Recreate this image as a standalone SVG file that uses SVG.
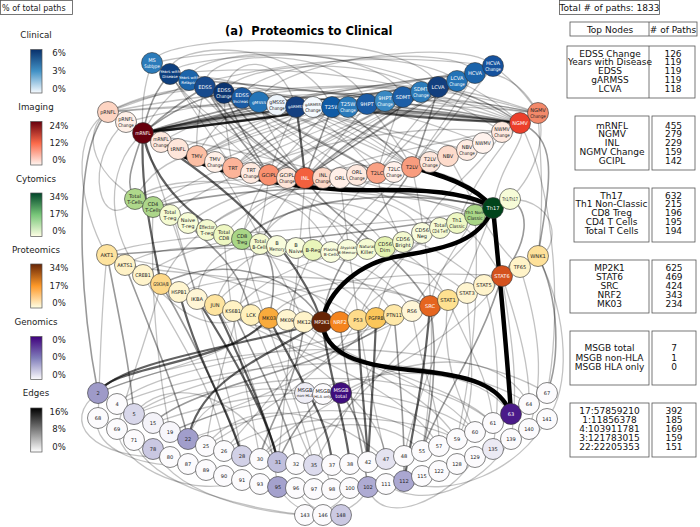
<svg xmlns="http://www.w3.org/2000/svg" width="700" height="527" viewBox="0 0 700 527">
<defs>
<linearGradient id="gBlue" x1="0" y1="0" x2="0" y2="1"><stop offset="0" stop-color="#08306b"/><stop offset="0.5" stop-color="#4292c6"/><stop offset="1" stop-color="#f7fbff"/></linearGradient>
<linearGradient id="gRed" x1="0" y1="0" x2="0" y2="1"><stop offset="0" stop-color="#67000d"/><stop offset="0.5" stop-color="#fb6a4a"/><stop offset="1" stop-color="#fff5f0"/></linearGradient>
<linearGradient id="gGreen" x1="0" y1="0" x2="0" y2="1"><stop offset="0" stop-color="#004529"/><stop offset="0.5" stop-color="#78c679"/><stop offset="1" stop-color="#ffffe5"/></linearGradient>
<linearGradient id="gOrange" x1="0" y1="0" x2="0" y2="1"><stop offset="0" stop-color="#662506"/><stop offset="0.5" stop-color="#fe9929"/><stop offset="1" stop-color="#ffffe5"/></linearGradient>
<linearGradient id="gPurple" x1="0" y1="0" x2="0" y2="1"><stop offset="0" stop-color="#3f007d"/><stop offset="0.5" stop-color="#807dba"/><stop offset="1" stop-color="#fcfbfd"/></linearGradient>
<linearGradient id="gGrey" x1="0" y1="0" x2="0" y2="1"><stop offset="0" stop-color="#000000"/><stop offset="0.5" stop-color="#7f7f7f"/><stop offset="1" stop-color="#ffffff"/></linearGradient>
</defs>
<style>
text{font-family:"DejaVu Sans","Liberation Sans",sans-serif}
.lg{font-size:8.7px;text-anchor:middle;fill:#222}
.tk{font-size:8.5px;text-anchor:middle;fill:#222}
.bar{stroke:#555;stroke-width:0.7}
.tb{font-size:9px;text-anchor:middle;fill:#111}
.box{fill:#fff;stroke:#555;stroke-width:0.8}
.title{font-size:11.5px;font-weight:bold;fill:#000}
#edges path{fill:none;stroke:#000;stroke-linecap:round}
.a{stroke-opacity:0.24;stroke-width:1.3}
.b{stroke-opacity:0.4;stroke-width:1.6}
.c{stroke-opacity:0.62;stroke-width:2.2}
.d{stroke-opacity:1;stroke-width:4.5}
.n circle{stroke:#333;stroke-width:0.6}
.n text{font-size:5.1px;text-anchor:middle;fill:#222}
.n text.s{font-size:4.2px}
.n text.t{font-size:3.9px}
.w text{fill:#fff}
</style>
<rect width="700" height="527" fill="#fff"/>

<g id="legend">
<rect x="0.5" y="0.5" width="72" height="14" class="box"/>
<text x="2" y="10.5" style="font-size:8px;fill:#222">% of total paths</text>
<text x="36" y="38" class="lg">Clinical</text>
<rect x="30.7" y="49.5" width="11.3" height="43.5" fill="url(#gBlue)" class="bar"/>
<text x="59" y="56" class="tk">6%</text><text x="59" y="74" class="tk">3%</text><text x="59" y="92" class="tk">0%</text>
<text x="36" y="110" class="lg">Imaging</text>
<rect x="30.7" y="121.5" width="11.3" height="43.5" fill="url(#gRed)" class="bar"/>
<text x="59" y="129" class="tk">24%</text><text x="59" y="146" class="tk">12%</text><text x="59" y="163" class="tk">0%</text>
<text x="36" y="182" class="lg">Cytomics</text>
<rect x="30.7" y="193" width="11.3" height="43.5" fill="url(#gGreen)" class="bar"/>
<text x="59" y="200" class="tk">34%</text><text x="59" y="217" class="tk">17%</text><text x="59" y="234" class="tk">0%</text>
<text x="36" y="253" class="lg">Proteomics</text>
<rect x="30.7" y="264" width="11.3" height="44" fill="url(#gOrange)" class="bar"/>
<text x="59" y="271" class="tk">34%</text><text x="59" y="289" class="tk">17%</text><text x="59" y="306" class="tk">0%</text>
<text x="36" y="325" class="lg">Genomics</text>
<rect x="30.7" y="336.5" width="11.3" height="43" fill="url(#gPurple)" class="bar"/>
<text x="59" y="343" class="tk">0%</text><text x="59" y="360" class="tk">0%</text><text x="59" y="378" class="tk">0%</text>
<text x="36" y="396" class="lg">Edges</text>
<rect x="30.7" y="408" width="11.3" height="44" fill="url(#gGrey)" class="bar"/>
<text x="59" y="415" class="tk">16%</text><text x="59" y="432" class="tk">8%</text><text x="59" y="450" class="tk">0%</text>
</g>

<text x="225" y="35" class="title" xml:space="preserve">(a)  Proteomics to Clinical</text>

<g id="tables">
<rect x="559.5" y="0.5" width="100" height="14" class="box"/>
<text x="609.5" y="10.5" class="tb">Total # of paths: 1833</text>
<rect x="570" y="22" width="127" height="14" class="box"/>
<line x1="649" y1="22" x2="649" y2="36" stroke="#555" stroke-width="0.8"/>
<text x="610" y="32.5" class="tb">Top Nodes</text><text x="673" y="32.5" class="tb"># of Paths</text>
<rect x="567" y="46" width="128" height="52" class="box"/>
<line x1="649" y1="46" x2="649" y2="98" stroke="#555" stroke-width="0.8"/>
<text class="tb"><tspan x="610" y="56.5">EDSS Change</tspan><tspan x="610" y="65.3">Years with Disease</tspan><tspan x="610" y="74.1">EDSS</tspan><tspan x="610" y="82.9">gARMSS</tspan><tspan x="610" y="91.7">LCVA</tspan></text>
<text class="tb"><tspan x="673" y="56.5">126</tspan><tspan x="673" y="65.3">119</tspan><tspan x="673" y="74.1">119</tspan><tspan x="673" y="82.9">119</tspan><tspan x="673" y="91.7">118</tspan></text>
<rect x="575" y="116" width="74" height="54" class="box"/><rect x="652" y="116" width="43" height="54" class="box"/>
<text class="tb"><tspan x="612" y="128.5">mRNFL</tspan><tspan x="612" y="137.3">NGMV</tspan><tspan x="612" y="146.1">INL</tspan><tspan x="612" y="154.9">NGMV Change</tspan><tspan x="612" y="163.7">GCIPL</tspan></text>
<text class="tb"><tspan x="673.5" y="128.5">455</tspan><tspan x="673.5" y="137.3">279</tspan><tspan x="673.5" y="146.1">229</tspan><tspan x="673.5" y="154.9">159</tspan><tspan x="673.5" y="163.7">142</tspan></text>
<rect x="574" y="188" width="75" height="54" class="box"/><rect x="652" y="188" width="43" height="54" class="box"/>
<text class="tb"><tspan x="611.5" y="198.5">Th17</tspan><tspan x="611.5" y="207.3">Th1 Non-Classic</tspan><tspan x="611.5" y="216.1">CD8 Treg</tspan><tspan x="611.5" y="224.9">CD4 T Cells</tspan><tspan x="611.5" y="233.7">Total T Cells</tspan></text>
<text class="tb"><tspan x="673.5" y="198.5">632</tspan><tspan x="673.5" y="207.3">215</tspan><tspan x="673.5" y="216.1">196</tspan><tspan x="673.5" y="224.9">195</tspan><tspan x="673.5" y="233.7">194</tspan></text>
<rect x="570" y="260" width="79" height="53" class="box"/><rect x="652" y="260" width="44" height="53" class="box"/>
<text class="tb"><tspan x="609.5" y="271.3">MP2K1</tspan><tspan x="609.5" y="280.1">STAT6</tspan><tspan x="609.5" y="288.9">SRC</tspan><tspan x="609.5" y="297.7">NRF2</tspan><tspan x="609.5" y="306.5">MK03</tspan></text>
<text class="tb"><tspan x="674" y="271.3">625</tspan><tspan x="674" y="280.1">469</tspan><tspan x="674" y="288.9">424</tspan><tspan x="674" y="297.7">343</tspan><tspan x="674" y="306.5">234</tspan></text>
<rect x="570" y="331" width="79" height="54" class="box"/><rect x="652" y="331" width="44" height="54" class="box"/>
<text class="tb"><tspan x="609.5" y="351.3">MSGB total</tspan><tspan x="609.5" y="360.5">MSGB non-HLA</tspan><tspan x="609.5" y="369.7">MSGB HLA only</tspan></text>
<text class="tb"><tspan x="674" y="351.3">7</tspan><tspan x="674" y="360.5">1</tspan><tspan x="674" y="369.7">0</tspan></text>
<rect x="570" y="403" width="79" height="54" class="box"/><rect x="652" y="403" width="44" height="54" class="box"/>
<text class="tb"><tspan x="609.5" y="414.3">17:57859210</tspan><tspan x="609.5" y="423.1">1:11856378</tspan><tspan x="609.5" y="431.9">4:103911781</tspan><tspan x="609.5" y="440.7">3:121783015</tspan><tspan x="609.5" y="449.5">22:22205353</tspan></text>
<text class="tb"><tspan x="674" y="414.3">392</tspan><tspan x="674" y="423.1">185</tspan><tspan x="674" y="431.9">169</tspan><tspan x="674" y="440.7">159</tspan><tspan x="674" y="449.5">151</tspan></text>
</g>

<g id="edges">
<path class="a" d="M108,112 Q300,40 493,66"/>
<path class="a" d="M108,112 Q320,95 520,123"/>
<path class="a" d="M126,122 Q330,70 538,113"/>
<path class="a" d="M108,112 Q200,70 296,107"/>
<path class="b" d="M143,133 Q185,100 224,93"/>
<path class="c" d="M143,133 Q230,112 332,107"/>
<path class="b" d="M143,133 Q290,98 438,87"/>
<path class="b" d="M143,133 Q310,90 475,73"/>
<path class="c" d="M143,133 Q260,120 403,97"/>
<path class="b" d="M143,133 Q175,105 205,87"/>
<path class="c" d="M143,133 Q270,118 367,104"/>
<path class="b" d="M520,123 Q360,115 205,87"/>
<path class="a" d="M520,123 Q350,55 170,74"/>
<path class="a" d="M520,123 Q330,25 152,63"/>
<path class="b" d="M520,123 Q400,110 296,107"/>
<path class="b" d="M520,123 Q480,95 438,87"/>
<path class="c" d="M520,123 Q420,120 332,107"/>
<path class="a" d="M538,113 Q400,70 242,98"/>
<path class="a" d="M538,113 Q430,90 348,107"/>
<path class="b" d="M305,178 Q250,125 224,93"/>
<path class="b" d="M305,178 Q380,115 438,87"/>
<path class="a" d="M305,178 Q420,100 493,66"/>
<path class="c" d="M305,178 Q300,130 296,107"/>
<path class="a" d="M305,178 Q200,120 170,74"/>
<path class="b" d="M269,175 Q230,130 205,87"/>
<path class="a" d="M269,175 Q360,120 403,97"/>
<path class="a" d="M412,167 Q300,80 170,74"/>
<path class="b" d="M412,167 Q350,110 332,107"/>
<path class="a" d="M412,167 Q460,100 475,73"/>
<path class="a" d="M377,173 Q330,120 296,107"/>
<path class="a" d="M377,173 Q420,110 457,81"/>
<path class="a" d="M197,156 Q220,110 259,102"/>
<path class="a" d="M197,156 Q300,100 421,92"/>
<path class="a" d="M233,168 Q280,120 313,107"/>
<path class="a" d="M233,168 Q300,110 385,101"/>
<path class="a" d="M538,113 Q500,40 403,97"/>
<path class="a" d="M502,132 Q400,60 277,105"/>
<path class="a" d="M483,143 Q350,90 224,93"/>
<path class="a" d="M448,156 Q330,110 205,87"/>
<path class="a" d="M430,162 Q300,100 189,80"/>
<path class="a" d="M161,142 Q250,90 348,107"/>
<path class="a" d="M178,149 Q300,100 457,81"/>
<path class="a" d="M215,162 Q330,115 475,73"/>
<path class="a" d="M251,173 Q370,110 493,66"/>
<path class="a" d="M287,178 Q350,130 438,87"/>
<path class="a" d="M340,178 Q260,110 189,80"/>
<path class="a" d="M357,175 Q270,120 242,98"/>
<path class="a" d="M394,172 Q300,110 224,93"/>
<path class="a" d="M467,150 Q350,120 296,107"/>
<path class="b" d="M520,123 Q350,90 189,80"/>
<path class="b" d="M520,123 Q370,100 224,93"/>
<path class="a" d="M520,123 Q390,105 259,102"/>
<path class="b" d="M520,123 Q430,112 348,107"/>
<path class="a" d="M520,123 Q460,105 403,97"/>
<path class="a" d="M520,123 Q490,95 457,81"/>
<path class="a" d="M305,178 Q230,130 189,80"/>
<path class="b" d="M305,178 Q240,135 205,87"/>
<path class="a" d="M305,178 Q270,140 259,102"/>
<path class="b" d="M305,178 Q320,140 332,107"/>
<path class="a" d="M305,178 Q340,140 367,104"/>
<path class="a" d="M305,178 Q370,130 421,92"/>
<path class="a" d="M305,178 Q390,120 457,81"/>
<path class="a" d="M305,178 Q400,115 475,73"/>
<path class="a" d="M269,175 Q200,120 170,74"/>
<path class="b" d="M269,175 Q240,130 224,93"/>
<path class="a" d="M269,175 Q280,140 296,107"/>
<path class="a" d="M269,175 Q300,140 332,107"/>
<path class="a" d="M269,175 Q350,120 438,87"/>
<path class="a" d="M269,175 Q380,110 493,66"/>
<path class="a" d="M377,173 Q290,120 205,87"/>
<path class="b" d="M377,173 Q300,130 224,93"/>
<path class="a" d="M377,173 Q390,130 403,97"/>
<path class="a" d="M377,173 Q430,120 475,73"/>
<path class="a" d="M412,167 Q320,120 224,93"/>
<path class="a" d="M412,167 Q350,130 296,107"/>
<path class="a" d="M412,167 Q390,130 367,104"/>
<path class="b" d="M412,167 Q430,120 438,87"/>
<path class="a" d="M412,167 Q460,110 493,66"/>
<path class="a" d="M197,156 Q195,120 205,87"/>
<path class="a" d="M197,156 Q250,125 296,107"/>
<path class="a" d="M197,156 Q320,110 438,87"/>
<path class="a" d="M197,156 Q270,125 332,107"/>
<path class="a" d="M233,168 Q225,130 224,93"/>
<path class="a" d="M233,168 Q200,120 170,74"/>
<path class="a" d="M233,168 Q300,125 367,104"/>
<path class="a" d="M233,168 Q360,110 493,66"/>
<path class="a" d="M108,112 Q150,90 205,87"/>
<path class="a" d="M108,112 Q220,100 332,107"/>
<path class="a" d="M108,112 Q270,80 438,87"/>
<path class="a" d="M538,113 Q370,90 205,87"/>
<path class="a" d="M538,113 Q420,100 296,107"/>
<path class="a" d="M538,113 Q490,95 438,87"/>
<path class="a" d="M538,113 Q520,85 493,66"/>
<path class="b" d="M143,133 Q150,95 170,74"/>
<path class="a" d="M143,133 Q160,100 189,80"/>
<path class="b" d="M143,133 Q200,115 259,102"/>
<path class="a" d="M143,133 Q300,105 457,81"/>
<path class="a" d="M143,133 Q320,100 493,66"/>
<path class="a" d="M143,133 Q280,110 421,92"/>
<path class="a" d="M143,133 Q270,115 385,101"/>
<path class="a" d="M143,133 Q250,120 348,107"/>
<path class="a" d="M143,133 Q140,95 152,63"/>
<path class="a" d="M170,74 C165,40 300,35 332,107"/>
<path class="a" d="M152,63 C160,30 420,30 438,87"/>
<path class="a" d="M189,80 C190,45 380,40 403,97"/>
<path class="a" d="M242,98 C250,60 460,40 475,73"/>
<path class="a" d="M224,93 C230,55 280,50 296,107"/>
<path class="a" d="M205,87 C200,45 350,45 367,104"/>
<path class="a" d="M259,102 C270,60 470,35 493,66"/>
<path class="a" d="M170,74 C180,50 420,45 457,81"/>
<path class="a" d="M224,93 C240,60 380,55 421,92"/>
<path class="a" d="M108,112 C60,140 90,230 107,255"/>
<path class="a" d="M126,122 C80,160 100,240 135,199"/>
<path class="a" d="M143,133 C100,170 110,240 143,275"/>
<path class="b" d="M108,112 C70,150 80,300 98,393"/>
<path class="a" d="M108,112 C80,130 90,180 153,207"/>
<path class="c" d="M143,133 C140,180 150,230 161,284"/>
<path class="c" d="M143,133 C150,180 200,230 242,239"/>
<path class="b" d="M143,133 C130,170 125,185 135,199"/>
<path class="a" d="M135,199 C200,170 400,170 493,208"/>
<path class="b" d="M153,207 Q320,170 493,208"/>
<path class="b" d="M242,239 C300,190 420,190 493,208"/>
<path class="a" d="M475,215 Q300,160 143,133"/>
<path class="a" d="M242,239 Q250,200 269,175"/>
<path class="a" d="M260,244 Q280,200 305,178"/>
<path class="a" d="M331,252 Q360,210 412,167"/>
<path class="a" d="M403,242 Q380,200 377,173"/>
<path class="a" d="M224,235 C300,150 450,150 520,123"/>
<path class="a" d="M170,215 C250,150 400,120 502,132"/>
<path class="a" d="M188,223 C260,170 330,190 340,178"/>
<path class="a" d="M367,249 C330,200 250,200 197,156"/>
<path class="a" d="M440,228 C380,180 300,170 233,168"/>
<path class="a" d="M457,223 C480,170 500,150 520,123"/>
<path class="a" d="M510,199 C540,170 545,130 538,113"/>
<path class="a" d="M510,199 C560,200 560,250 538,256"/>
<path class="a" d="M348,250 C320,180 200,150 178,149"/>
<path class="a" d="M313,250 C300,200 320,180 357,175"/>
<path class="a" d="M135,199 C160,150 220,140 251,173"/>
<path class="a" d="M153,207 C220,160 270,150 287,178"/>
<path class="a" d="M260,244 C280,190 380,190 403,242"/>
<path class="a" d="M207,230 C250,180 400,180 422,233"/>
<path class="a" d="M135,199 C170,170 300,170 331,252"/>
<path class="a" d="M493,208 C470,170 380,150 305,178"/>
<path class="a" d="M493,208 C500,160 530,140 520,123"/>
<path class="a" d="M475,215 C430,190 330,200 269,175"/>
<path class="a" d="M242,239 C250,190 350,170 412,167"/>
<path class="a" d="M153,207 C200,180 280,190 305,178"/>
<path class="a" d="M385,247 C370,210 300,200 233,168"/>
<path class="a" d="M422,233 C430,200 480,170 502,132"/>
<path class="b" d="M107,255 Q330,240 475,215"/>
<path class="a" d="M107,255 C150,230 400,230 493,208"/>
<path class="b" d="M251,315 C240,260 200,240 188,223"/>
<path class="a" d="M215,305 C230,250 300,230 331,252"/>
<path class="a" d="M197,299 C200,250 250,240 260,244"/>
<path class="b" d="M269,318 C280,270 270,240 242,239"/>
<path class="c" d="M322,322 C300,260 250,200 143,133"/>
<path class="b" d="M322,322 C330,250 400,200 412,167"/>
<path class="a" d="M340,322 C360,270 400,250 422,233"/>
<path class="a" d="M358,320 C380,260 430,240 440,228"/>
<path class="a" d="M430,306 C440,260 470,230 475,215"/>
<path class="b" d="M430,306 C400,250 330,220 305,178"/>
<path class="a" d="M502,276 C480,240 470,230 457,223"/>
<path class="b" d="M502,276 C530,240 530,210 510,199"/>
<path class="a" d="M448,300 C420,250 380,240 367,249"/>
<path class="a" d="M412,311 C380,260 330,260 313,250"/>
<path class="a" d="M394,315 C370,270 300,260 277,246"/>
<path class="a" d="M376,318 C330,260 250,260 224,235"/>
<path class="a" d="M484,285 C440,250 420,240 403,242"/>
<path class="a" d="M520,267 C480,230 460,170 448,156"/>
<path class="a" d="M538,256 C545,200 540,150 538,113"/>
<path class="b" d="M538,256 C550,180 560,140 520,123"/>
<path class="a" d="M143,275 C200,240 250,230 296,248"/>
<path class="a" d="M125,265 C180,230 260,260 348,250"/>
<path class="a" d="M179,292 C220,250 330,240 385,247"/>
<path class="a" d="M233,311 C280,260 350,250 403,242"/>
<path class="a" d="M215,305 C250,260 300,270 340,322"/>
<path class="a" d="M358,320 C380,280 430,270 448,300"/>
<path class="a" d="M269,318 C300,280 380,280 430,306"/>
<path class="b" d="M161,284 C230,250 300,280 322,322"/>
<path class="a" d="M143,275 C170,300 200,340 251,315"/>
<path class="a" d="M107,255 C180,270 260,280 322,322"/>
<path class="a" d="M125,265 C200,280 300,270 358,320"/>
<path class="a" d="M179,292 C240,270 360,270 430,306"/>
<path class="a" d="M233,311 C300,280 420,270 502,276"/>
<path class="a" d="M161,284 C200,200 300,190 340,178"/>
<path class="a" d="M197,299 C180,240 170,200 170,215"/>
<path class="a" d="M287,320 C300,260 330,220 377,173"/>
<path class="a" d="M304,322 C280,270 240,200 215,162"/>
<path class="a" d="M376,318 C390,260 420,230 475,215"/>
<path class="a" d="M412,311 C440,260 480,240 493,208"/>
<path class="a" d="M467,293 C430,260 370,250 348,250"/>
<path class="c" d="M358,320 C360,380 366,420 368,462"/>
<path class="c" d="M376,318 C374,380 370,420 368,462"/>
<path class="b" d="M340,322 C345,380 360,430 368,487"/>
<path class="b" d="M394,315 C400,380 405,430 404,481"/>
<path class="c" d="M430,306 C425,370 415,420 404,481"/>
<path class="b" d="M430,306 C440,360 430,420 422,451"/>
<path class="a" d="M412,311 C420,370 440,400 439,446"/>
<path class="a" d="M448,300 C470,350 490,380 493,423"/>
<path class="a" d="M448,300 C440,360 460,400 475,432"/>
<path class="a" d="M467,293 C470,350 480,400 457,439"/>
<path class="a" d="M502,276 C520,330 530,370 529,404"/>
<path class="b" d="M538,256 C560,300 560,360 547,393"/>
<path class="a" d="M538,256 C570,320 570,390 547,419"/>
<path class="a" d="M520,267 C540,330 545,380 529,429"/>
<path class="a" d="M502,276 C510,330 520,380 511,439"/>
<path class="a" d="M484,285 C500,340 500,400 493,449"/>
<path class="c" d="M98,393 C120,360 250,345 322,322"/>
<path class="c" d="M98,393 C110,365 230,365 269,318"/>
<path class="b" d="M107,255 C120,320 130,370 134,414"/>
<path class="a" d="M107,255 C100,320 100,380 98,418"/>
<path class="b" d="M125,265 C150,330 180,400 188,439"/>
<path class="a" d="M143,275 C180,340 220,400 224,451"/>
<path class="b" d="M161,284 C200,350 230,420 242,456"/>
<path class="c" d="M197,299 C230,350 270,420 278,462"/>
<path class="a" d="M215,305 C250,360 270,430 278,487"/>
<path class="b" d="M233,311 C260,370 290,420 296,464"/>
<path class="a" d="M251,315 C280,380 300,440 314,465"/>
<path class="c" d="M269,318 C300,380 330,420 332,465"/>
<path class="a" d="M287,320 C300,380 320,450 332,489"/>
<path class="b" d="M304,322 C300,380 260,440 260,459"/>
<path class="c" d="M322,322 C330,380 345,420 350,464"/>
<path class="a" d="M322,322 C290,380 250,420 224,451"/>
<path class="a" d="M358,320 C320,380 250,420 206,446"/>
<path class="a" d="M376,318 C330,380 220,410 170,432"/>
<path class="b" d="M394,315 C340,370 200,380 153,423"/>
<path class="a" d="M412,311 C350,360 200,370 134,414"/>
<path class="a" d="M430,306 C350,350 160,360 117,404"/>
<path class="a" d="M269,318 C230,360 150,370 98,393"/>
<path class="a" d="M161,284 C150,330 130,380 117,429"/>
<path class="a" d="M251,315 C300,360 380,400 386,459"/>
<path class="a" d="M215,305 C280,350 400,380 439,446"/>
<path class="a" d="M179,292 C260,340 420,360 475,432"/>
<path class="a" d="M287,320 C330,360 420,380 457,439"/>
<path class="a" d="M304,322 C350,370 450,380 493,423"/>
<path class="a" d="M394,315 C380,370 330,430 314,465"/>
<path class="a" d="M448,300 C400,360 330,420 296,464"/>
<path class="a" d="M502,276 C450,360 300,400 260,459"/>
<path class="a" d="M305,178 C300,250 290,350 278,462"/>
<path class="a" d="M412,167 C430,250 440,350 422,451"/>
<path class="a" d="M520,123 C560,200 560,330 547,393"/>
<path class="a" d="M475,215 C480,300 470,380 457,439"/>
<path class="a" d="M224,235 C230,330 250,400 260,459"/>
<path class="a" d="M153,207 C150,300 160,380 170,432"/>
<path class="a" d="M340,178 C350,260 360,350 386,459"/>
<path class="a" d="M269,175 C260,260 220,350 206,446"/>
<path class="a" d="M242,239 C260,320 300,400 314,465"/>
<path class="a" d="M143,133 C180,250 230,380 242,456"/>
<path class="a" d="M493,208 C460,300 420,380 404,456"/>
<path class="b" d="M422,451 C440,400 480,350 502,276"/>
<path class="b" d="M323,394 C300,420 285,445 278,462"/>
<path class="c" d="M188,439 C200,380 260,360 322,322"/>
<path class="c" d="M242,456 C230,410 200,370 179,292"/>
<path class="c" d="M278,462 C265,410 240,360 215,305"/>
<path class="a" d="M98,418 C90,450 150,470 188,464"/>
<path class="a" d="M117,429 C120,470 200,500 242,480"/>
<path class="a" d="M134,440 C150,490 260,510 305,515"/>
<path class="a" d="M153,449 C180,500 280,520 341,515"/>
<path class="a" d="M98,393 C60,420 90,460 170,457"/>
<path class="a" d="M278,487 C300,520 330,520 350,488"/>
<path class="a" d="M296,488 C320,530 360,510 368,487"/>
<path class="a" d="M368,487 C380,530 450,500 475,457"/>
<path class="a" d="M386,484 C420,510 480,490 511,439"/>
<path class="a" d="M404,481 C450,500 520,470 547,419"/>
<path class="a" d="M117,404 C250,350 450,350 529,404"/>
<path class="a" d="M134,414 C250,370 420,360 493,423"/>
<path class="a" d="M98,393 C250,330 460,340 547,393"/>
<path class="a" d="M153,423 C280,380 400,380 475,432"/>
<path class="a" d="M170,432 C260,390 380,380 457,439"/>
<path class="a" d="M188,439 C300,400 380,400 439,446"/>
<path class="a" d="M305,393 C400,360 480,370 511,414"/>
<path class="a" d="M341,393 C420,350 500,350 529,404"/>
<path class="b" d="M341,393 C360,420 365,440 368,462"/>
<path class="a" d="M305,393 C250,380 200,400 188,439"/>
<path class="a" d="M206,446 C240,400 320,400 386,459"/>
<path class="a" d="M224,451 C280,410 400,410 457,439"/>
<path class="a" d="M134,414 C160,380 230,380 278,462"/>
<path class="a" d="M260,459 C300,420 380,410 422,451"/>
<path class="d" d="M143,133 C200,175 300,192 380,190 C440,189 475,195 493,208"/>
<path class="d" d="M412,167 C440,175 475,185 493,208"/>
<path class="d" d="M493,208 C500,280 507,350 511,414"/>
<path class="d" d="M322,322 C328,290 360,262 400,256 C450,248 480,240 493,208"/>
<path class="d" d="M322,322 C325,355 360,365 410,370 C470,375 500,385 511,414"/>
</g>

<g id="nodes">
<g id="n-ms" class="n w"><circle cx="152" cy="63" r="10.5" fill="#2b7bba"/><text x="152" y="61.8">MS</text><text x="152" y="68" textLength="15.5" lengthAdjust="spacingAndGlyphs">Subtype</text></g>
<g id="n-yd" class="n w"><circle cx="170" cy="74" r="10.5" fill="#0d3f7f"/><text class="t" x="170" y="72.6">Years with</text><text class="t" x="170" y="78.2">Disease</text></g>
<g id="n-yr" class="n w"><circle cx="189" cy="80" r="10.5" fill="#1c64aa"/><text class="t" x="189" y="78.6">Years with</text><text class="t" x="189" y="84.2">Relapse</text></g>
<g id="n-edss" class="n w"><circle cx="205" cy="87" r="10.5" fill="#174a8d"/><text x="205" y="88.9">EDSS</text></g>
<g id="n-edssc" class="n w"><circle cx="224" cy="93" r="10.5" fill="#0a3470"/><text x="224" y="91.8">EDSS</text><text x="224" y="98" textLength="15.5" lengthAdjust="spacingAndGlyphs">Change</text></g>
<g id="n-edssi" class="n w"><circle cx="242" cy="98" r="10.5" fill="#1a5aa3"/><text x="242" y="96.8">EDSS</text><text class="s" x="242" y="102.6">Increase</text></g>
<g id="n-gm" class="n w"><circle cx="259" cy="102" r="10.5" fill="#2474b7"/><text class="s" x="259" y="103.6">gMSSS</text></g>
<g id="n-gmc" class="n"><circle cx="277" cy="105" r="10.5" fill="#eef5fc"/><text x="277" y="103.8" textLength="15.5" lengthAdjust="spacingAndGlyphs">gMSSS</text><text x="277" y="110" textLength="15.5" lengthAdjust="spacingAndGlyphs">Change</text></g>
<g id="n-ar" class="n w"><circle cx="296" cy="107" r="10.5" fill="#143f80"/><text class="t" x="296" y="108.4">gARMSS</text></g>
<g id="n-arc" class="n"><circle cx="313" cy="107" r="10.5" fill="#f4f9fe"/><text class="t" x="313" y="105.6">gARMSS</text><text x="313" y="112" textLength="15.5" lengthAdjust="spacingAndGlyphs">Change</text></g>
<g id="n-t25" class="n w"><circle cx="332" cy="107" r="10.5" fill="#0e5aa5"/><text x="332" y="108.9">T25W</text></g>
<g id="n-t25c" class="n w"><circle cx="348" cy="107" r="10.5" fill="#2a7aba"/><text x="348" y="105.8">T25W</text><text x="348" y="112" textLength="15.5" lengthAdjust="spacingAndGlyphs">Change</text></g>
<g id="n-9h" class="n w"><circle cx="367" cy="104" r="10.5" fill="#1b5ca6"/><text x="367" y="105.9">9HPT</text></g>
<g id="n-9hc" class="n w"><circle cx="385" cy="101" r="10.5" fill="#3989c3"/><text x="385" y="99.8">9HPT</text><text x="385" y="106" textLength="15.5" lengthAdjust="spacingAndGlyphs">Change</text></g>
<g id="n-sd" class="n w"><circle cx="403" cy="97" r="10.5" fill="#1c5ea7"/><text x="403" y="98.9">SDMT</text></g>
<g id="n-sdc" class="n w"><circle cx="421" cy="92" r="10.5" fill="#2b7bba"/><text x="421" y="90.8">SDMT</text><text x="421" y="97" textLength="15.5" lengthAdjust="spacingAndGlyphs">Change</text></g>
<g id="n-lc" class="n w"><circle cx="438" cy="87" r="10.5" fill="#123f7e"/><text x="438" y="88.9">LCVA</text></g>
<g id="n-lcc" class="n w"><circle cx="457" cy="81" r="10.5" fill="#2373b6"/><text x="457" y="79.8">LCVA</text><text x="457" y="86" textLength="15.5" lengthAdjust="spacingAndGlyphs">Change</text></g>
<g id="n-hc" class="n w"><circle cx="475" cy="73" r="10.5" fill="#1b64ab"/><text x="475" y="74.9">HCVA</text></g>
<g id="n-hcc" class="n w"><circle cx="493" cy="66" r="10.5" fill="#15529e"/><text x="493" y="64.8">HCVA</text><text x="493" y="71" textLength="15.5" lengthAdjust="spacingAndGlyphs">Change</text></g>

<g id="n-pr" class="n"><circle cx="108" cy="112" r="10.5" fill="#fdd4c2"/><text x="108" y="113.9" textLength="15.5" lengthAdjust="spacingAndGlyphs">pRNFL</text></g>
<g id="n-prc" class="n"><circle cx="126" cy="122" r="10.5" fill="#fff0e8"/><text x="126" y="120.8" textLength="15.5" lengthAdjust="spacingAndGlyphs">pRNFL</text><text x="126" y="127" textLength="15.5" lengthAdjust="spacingAndGlyphs">Change</text></g>
<g id="n-mr" class="n w"><circle cx="143" cy="133" r="10.5" fill="#67000d"/><text x="143" y="134.9" textLength="15.5" lengthAdjust="spacingAndGlyphs">mRNFL</text></g>
<g id="n-mrc" class="n"><circle cx="161" cy="142" r="10.5" fill="#fee9df"/><text x="161" y="140.8" textLength="15.5" lengthAdjust="spacingAndGlyphs">mRNFL</text><text x="161" y="147" textLength="15.5" lengthAdjust="spacingAndGlyphs">Change</text></g>
<g id="n-tr" class="n"><circle cx="178" cy="149" r="10.5" fill="#fee6da"/><text x="178" y="150.9">tRNFL</text></g>
<g id="n-tmv" class="n"><circle cx="197" cy="156" r="10.5" fill="#fcbfa4"/><text x="197" y="157.9">TMV</text></g>
<g id="n-tmvc" class="n"><circle cx="215" cy="162" r="10.5" fill="#fff0e8"/><text x="215" y="160.8">TMV</text><text x="215" y="167" textLength="15.5" lengthAdjust="spacingAndGlyphs">Change</text></g>
<g id="n-trt" class="n"><circle cx="233" cy="168" r="10.5" fill="#fcb499"/><text x="233" y="169.9">TRT</text></g>
<g id="n-trtc" class="n"><circle cx="251" cy="173" r="10.5" fill="#feeae0"/><text x="251" y="171.8">TRT</text><text x="251" y="178" textLength="15.5" lengthAdjust="spacingAndGlyphs">Change</text></g>
<g id="n-gc" class="n"><circle cx="269" cy="175" r="10.5" fill="#f9906f"/><text x="269" y="176.9">GCIPL</text></g>
<g id="n-gcc" class="n"><circle cx="287" cy="178" r="10.5" fill="#fee5d9"/><text x="287" y="176.8">GCIPL</text><text x="287" y="183" textLength="15.5" lengthAdjust="spacingAndGlyphs">Change</text></g>
<g id="n-inl" class="n w"><circle cx="305" cy="178" r="10.5" fill="#f3603e"/><text x="305" y="179.9">INL</text></g>
<g id="n-inlc" class="n"><circle cx="323" cy="178" r="10.5" fill="#fdd8c7"/><text x="323" y="176.8">INL</text><text x="323" y="183" textLength="15.5" lengthAdjust="spacingAndGlyphs">Change</text></g>
<g id="n-orl" class="n"><circle cx="340" cy="178" r="10.5" fill="#ffefe8"/><text x="340" y="179.9">ORL</text></g>
<g id="n-orlc" class="n"><circle cx="357" cy="175" r="10.5" fill="#fee9df"/><text x="357" y="173.8">ORL</text><text x="357" y="180" textLength="15.5" lengthAdjust="spacingAndGlyphs">Change</text></g>
<g id="n-t2c" class="n"><circle cx="377" cy="173" r="10.5" fill="#f9a184"/><text x="377" y="174.9">T2LC</text></g>
<g id="n-t2cc" class="n"><circle cx="394" cy="172" r="10.5" fill="#fff1eb"/><text x="394" y="170.8">T2LC</text><text x="394" y="177" textLength="15.5" lengthAdjust="spacingAndGlyphs">Change</text></g>
<g id="n-t2v" class="n"><circle cx="412" cy="167" r="10.5" fill="#f89c7e"/><text x="412" y="168.9">T2LV</text></g>
<g id="n-t2vc" class="n"><circle cx="430" cy="162" r="10.5" fill="#fee7dc"/><text x="430" y="160.8">T2LV</text><text x="430" y="167" textLength="15.5" lengthAdjust="spacingAndGlyphs">Change</text></g>
<g id="n-nbv" class="n"><circle cx="448" cy="156" r="10.5" fill="#fddbcb"/><text x="448" y="157.9">NBV</text></g>
<g id="n-nbvc" class="n"><circle cx="467" cy="150" r="10.5" fill="#feebe2"/><text x="467" y="148.8">NBV</text><text x="467" y="155" textLength="15.5" lengthAdjust="spacingAndGlyphs">Change</text></g>
<g id="n-nw" class="n"><circle cx="483" cy="143" r="10.5" fill="#fff3ee"/><text x="483" y="144.9" textLength="15.5" lengthAdjust="spacingAndGlyphs">NWMV</text></g>
<g id="n-nwc" class="n"><circle cx="502" cy="132" r="10.5" fill="#fee9df"/><text x="502" y="130.8" textLength="15.5" lengthAdjust="spacingAndGlyphs">NWMV</text><text x="502" y="137" textLength="15.5" lengthAdjust="spacingAndGlyphs">Change</text></g>
<g id="n-ng" class="n w"><circle cx="520" cy="123" r="10.5" fill="#ec3f2b"/><text x="520" y="124.9" textLength="15.5" lengthAdjust="spacingAndGlyphs">NGMV</text></g>
<g id="n-ngc" class="n"><circle cx="538" cy="113" r="10.5" fill="#f3896a"/><text x="538" y="111.8" textLength="15.5" lengthAdjust="spacingAndGlyphs">NGMV</text><text x="538" y="118" textLength="15.5" lengthAdjust="spacingAndGlyphs">Change</text></g>

<g id="n-tt" class="n"><circle cx="135" cy="199" r="10.5" fill="#afd88b"/><text x="135" y="197.8">Total</text><text x="135" y="204" textLength="15.5" lengthAdjust="spacingAndGlyphs">T-Cells</text></g>
<g id="n-cd4" class="n"><circle cx="153" cy="207" r="10.5" fill="#acd68a"/><text x="153" y="205.8">CD4</text><text x="153" y="212" textLength="15.5" lengthAdjust="spacingAndGlyphs">T-Cells</text></g>
<g id="n-treg" class="n"><circle cx="170" cy="215" r="10.5" fill="#f5fbd2"/><text x="170" y="213.8">Total</text><text x="170" y="220">T-reg</text></g>
<g id="n-ntreg" class="n"><circle cx="188" cy="223" r="10.5" fill="#f7fcd6"/><text x="188" y="221.8">Naive</text><text x="188" y="228">T-reg</text></g>
<g id="n-etreg" class="n"><circle cx="207" cy="230" r="10.5" fill="#f4fad0"/><text x="207" y="228.8" textLength="15.5" lengthAdjust="spacingAndGlyphs">Effector</text><text x="207" y="235">T-reg</text></g>
<g id="n-cd8" class="n"><circle cx="224" cy="235" r="10.5" fill="#eef7c2"/><text x="224" y="233.8">Total</text><text x="224" y="240">CD8</text></g>
<g id="n-cd8t" class="n"><circle cx="242" cy="239" r="10.5" fill="#a9d687"/><text x="242" y="237.8">CD8</text><text x="242" y="244">Treg</text></g>
<g id="n-tb" class="n"><circle cx="260" cy="244" r="10.5" fill="#f4fad0"/><text x="260" y="242.8">Total</text><text x="260" y="249" textLength="15.5" lengthAdjust="spacingAndGlyphs">B-Cells</text></g>
<g id="n-bm" class="n"><circle cx="277" cy="246" r="10.5" fill="#f8fcdc"/><text x="277" y="244.8">B</text><text x="277" y="251" textLength="15.5" lengthAdjust="spacingAndGlyphs">Memory</text></g>
<g id="n-bn" class="n"><circle cx="296" cy="248" r="10.5" fill="#f9fdde"/><text x="296" y="246.8">B</text><text x="296" y="253">Naive</text></g>
<g id="n-br" class="n"><circle cx="313" cy="250" r="10.5" fill="#e9f5ba"/><text x="313" y="251.9">B-Reg</text></g>
<g id="n-pb" class="n"><circle cx="331" cy="252" r="10.5" fill="#f9fdde"/><text class="s" x="331" y="250.8">Plasma</text><text class="s" x="331" y="256.4">B-Cells</text></g>
<g id="n-ab" class="n"><circle cx="348" cy="250" r="10.5" fill="#f8fcdc"/><text class="t" x="348" y="248.8">Atypical</text><text class="t" x="348" y="254.2">B-Memory</text></g>
<g id="n-nk" class="n"><circle cx="367" cy="249" r="10.5" fill="#f6fbd4"/><text class="s" x="367" y="247.8">Natural</text><text x="367" y="254">Killer</text></g>
<g id="n-cdd" class="n"><circle cx="385" cy="247" r="10.5" fill="#e4f2b0"/><text x="385" y="245.8">CD56</text><text x="385" y="252">Dim</text></g>
<g id="n-cdb" class="n"><circle cx="403" cy="242" r="10.5" fill="#f4fad0"/><text x="403" y="240.8">CD56</text><text x="403" y="247">Bright</text></g>
<g id="n-cdn" class="n"><circle cx="422" cy="233" r="10.5" fill="#f8fcdc"/><text x="422" y="231.8">CD56</text><text x="422" y="238">Neg</text></g>
<g id="n-cd4e" class="n"><circle cx="440" cy="228" r="10.5" fill="#f6fbd4"/><text x="440" y="226.8">Total</text><text x="440" y="233" textLength="15.5" lengthAdjust="spacingAndGlyphs">CD4 T-eff</text></g>
<g id="n-th1c" class="n"><circle cx="457" cy="223" r="10.5" fill="#eef8c4"/><text x="457" y="221.8">Th1</text><text x="457" y="228" textLength="15.5" lengthAdjust="spacingAndGlyphs">Classic</text></g>
<g id="n-th1n" class="n"><circle cx="475" cy="215" r="10.5" fill="#a9d687"/><text class="s" x="475" y="213.6">Th1 Non-</text><text x="475" y="220" textLength="15.5" lengthAdjust="spacingAndGlyphs">Classic</text></g>
<g id="n-th17" class="n w"><circle cx="493" cy="208" r="10.5" fill="#00441b"/><text x="493" y="209.9">Th17</text></g>
<g id="n-th117" class="n"><circle cx="510" cy="199" r="10.5" fill="#f7fcd8"/><text x="510" y="200.9" textLength="15.5" lengthAdjust="spacingAndGlyphs">Th1/Th17</text></g>

<g id="n-akt1" class="n"><circle cx="107" cy="255" r="10.5" fill="#fee39e"/><text x="107" y="256.9">AKT1</text></g>
<g id="n-akts1" class="n"><circle cx="125" cy="265" r="10.5" fill="#fff2c6"/><text x="125" y="266.9" textLength="15.5" lengthAdjust="spacingAndGlyphs">AKTS1</text></g>
<g id="n-creb1" class="n"><circle cx="143" cy="275" r="10.5" fill="#fff4cc"/><text x="143" y="276.9" textLength="15.5" lengthAdjust="spacingAndGlyphs">CREB1</text></g>
<g id="n-gsk" class="n"><circle cx="161" cy="284" r="10.5" fill="#fdd889"/><text x="161" y="285.9" textLength="15.5" lengthAdjust="spacingAndGlyphs">GSK3A/B</text></g>
<g id="n-hspb1" class="n"><circle cx="179" cy="292" r="10.5" fill="#fff5d0"/><text x="179" y="293.9" textLength="15.5" lengthAdjust="spacingAndGlyphs">HSPB1</text></g>
<g id="n-ikba" class="n"><circle cx="197" cy="299" r="10.5" fill="#fff6d6"/><text x="197" y="300.9">IKBA</text></g>
<g id="n-jun" class="n"><circle cx="215" cy="305" r="10.5" fill="#fee49f"/><text x="215" y="306.9">JUN</text></g>
<g id="n-ks6b1" class="n"><circle cx="233" cy="311" r="10.5" fill="#fff2c4"/><text x="233" y="312.9" textLength="15.5" lengthAdjust="spacingAndGlyphs">KS6B1</text></g>
<g id="n-lck" class="n"><circle cx="251" cy="315" r="10.5" fill="#fff0bb"/><text x="251" y="316.9">LCK</text></g>
<g id="n-mk03" class="n"><circle cx="269" cy="318" r="10.5" fill="#f9ab3c"/><text x="269" y="319.9">MK03</text></g>
<g id="n-mk09" class="n"><circle cx="287" cy="320" r="10.5" fill="#fff5d0"/><text x="287" y="321.9">MK09</text></g>
<g id="n-mk12" class="n"><circle cx="304" cy="322" r="10.5" fill="#fff3c9"/><text x="304" y="323.9">MK12</text></g>
<g id="n-mp2k1" class="n w"><circle cx="322" cy="322" r="10.5" fill="#662506"/><text x="322" y="323.9" textLength="15.5" lengthAdjust="spacingAndGlyphs">MP2K1</text></g>
<g id="n-nrf2" class="n w"><circle cx="340" cy="322" r="10.5" fill="#f4841e"/><text x="340" y="323.9">NRF2</text></g>
<g id="n-p53" class="n"><circle cx="358" cy="320" r="10.5" fill="#fedc8b"/><text x="358" y="321.9">P53</text></g>
<g id="n-pgfrb" class="n"><circle cx="376" cy="318" r="10.5" fill="#fbc65a"/><text x="376" y="319.9" textLength="15.5" lengthAdjust="spacingAndGlyphs">PGFRB</text></g>
<g id="n-ptn11" class="n"><circle cx="394" cy="315" r="10.5" fill="#fee8a8"/><text x="394" y="316.9" textLength="15.5" lengthAdjust="spacingAndGlyphs">PTN11</text></g>
<g id="n-rs6" class="n"><circle cx="412" cy="311" r="10.5" fill="#fff6d6"/><text x="412" y="312.9">RS6</text></g>
<g id="n-src" class="n w"><circle cx="430" cy="306" r="10.5" fill="#e5651f"/><text x="430" y="307.9">SRC</text></g>
<g id="n-stat1" class="n"><circle cx="448" cy="300" r="10.5" fill="#fee191"/><text x="448" y="301.9" textLength="15.5" lengthAdjust="spacingAndGlyphs">STAT1</text></g>
<g id="n-stat3" class="n"><circle cx="467" cy="293" r="10.5" fill="#fff5d0"/><text x="467" y="294.9" textLength="15.5" lengthAdjust="spacingAndGlyphs">STAT3</text></g>
<g id="n-stat5" class="n"><circle cx="484" cy="285" r="10.5" fill="#fff4cc"/><text x="484" y="286.9" textLength="15.5" lengthAdjust="spacingAndGlyphs">STAT5</text></g>
<g id="n-stat6" class="n w"><circle cx="502" cy="276" r="10.5" fill="#d4511d"/><text x="502" y="277.9" textLength="15.5" lengthAdjust="spacingAndGlyphs">STAT6</text></g>
<g id="n-tf65" class="n"><circle cx="520" cy="267" r="10.5" fill="#fff3c8"/><text x="520" y="268.9">TF65</text></g>
<g id="n-wnk1" class="n"><circle cx="538" cy="256" r="10.5" fill="#fee19a"/><text x="538" y="257.9">WNK1</text></g>

<g id="n-msgbn" class="n"><circle cx="305" cy="393" r="10.5" fill="#efeef6"/><text x="305" y="391.8">MSGB</text><text class="t" x="305" y="397.4">non-HLA</text></g>
<g id="n-msgbh" class="n"><circle cx="323" cy="394" r="10.5" fill="#fcfbfd"/><text x="323" y="392.8">MSGB</text><text class="t" x="323" y="398.4">HLA only</text></g>
<g id="n-msgbt" class="n w"><circle cx="341" cy="393" r="10.5" fill="#3f0d7d"/><text x="341" y="391.8">MSGB</text><text x="341" y="398">total</text></g>

<g id="n-g2" class="n"><circle cx="98" cy="393" r="10.5" fill="#9e9ac8"/><text x="98" y="394.9">2</text></g>
<g id="n-g68" class="n"><circle cx="98" cy="418" r="10.5" fill="#fcfbfd"/><text x="98" y="419.9">68</text></g>
<g id="n-g4" class="n"><circle cx="117" cy="404" r="10.5" fill="#fcfbfd"/><text x="117" y="405.9">4</text></g>
<g id="n-g69" class="n"><circle cx="117" cy="429" r="10.5" fill="#fcfbfd"/><text x="117" y="430.9">69</text></g>
<g id="n-g5" class="n"><circle cx="134" cy="414" r="10.5" fill="#d8d7ea"/><text x="134" y="415.9">5</text></g>
<g id="n-g71" class="n"><circle cx="134" cy="440" r="10.5" fill="#fcfbfd"/><text x="134" y="441.9">71</text></g>
<g id="n-g15" class="n"><circle cx="153" cy="423" r="10.5" fill="#f4f3f9"/><text x="153" y="424.9">15</text></g>
<g id="n-g78" class="n"><circle cx="153" cy="449" r="10.5" fill="#cac8e2"/><text x="153" y="450.9">78</text></g>
<g id="n-g19" class="n"><circle cx="170" cy="432" r="10.5" fill="#f7f6fb"/><text x="170" y="433.9">19</text></g>
<g id="n-g80" class="n"><circle cx="170" cy="457" r="10.5" fill="#fcfbfd"/><text x="170" y="458.9">80</text></g>
<g id="n-g22" class="n"><circle cx="188" cy="439" r="10.5" fill="#a19ecb"/><text x="188" y="440.9">22</text></g>
<g id="n-g87" class="n"><circle cx="188" cy="464" r="10.5" fill="#fcfbfd"/><text x="188" y="465.9">87</text></g>
<g id="n-g25" class="n"><circle cx="206" cy="446" r="10.5" fill="#fcfbfd"/><text x="206" y="447.9">25</text></g>
<g id="n-g89" class="n"><circle cx="206" cy="470" r="10.5" fill="#fcfbfd"/><text x="206" y="471.9">89</text></g>
<g id="n-g26" class="n"><circle cx="224" cy="451" r="10.5" fill="#fcfbfd"/><text x="224" y="452.9">26</text></g>
<g id="n-g90" class="n"><circle cx="224" cy="476" r="10.5" fill="#fcfbfd"/><text x="224" y="477.9">90</text></g>
<g id="n-g28" class="n"><circle cx="242" cy="456" r="10.5" fill="#d2d1e7"/><text x="242" y="457.9">28</text></g>
<g id="n-g91" class="n"><circle cx="242" cy="480" r="10.5" fill="#fcfbfd"/><text x="242" y="481.9">91</text></g>
<g id="n-g30" class="n"><circle cx="260" cy="459" r="10.5" fill="#fcfbfd"/><text x="260" y="460.9">30</text></g>
<g id="n-g93" class="n"><circle cx="260" cy="484" r="10.5" fill="#fcfbfd"/><text x="260" y="485.9">93</text></g>
<g id="n-g31" class="n"><circle cx="278" cy="462" r="10.5" fill="#c0bfdd"/><text x="278" y="463.9">31</text></g>
<g id="n-g95" class="n"><circle cx="278" cy="487" r="10.5" fill="#a4a1cd"/><text x="278" y="488.9">95</text></g>
<g id="n-g32" class="n"><circle cx="296" cy="464" r="10.5" fill="#fcfbfd"/><text x="296" y="465.9">32</text></g>
<g id="n-g96" class="n"><circle cx="296" cy="488" r="10.5" fill="#fcfbfd"/><text x="296" y="489.9">96</text></g>
<g id="n-g35" class="n"><circle cx="314" cy="465" r="10.5" fill="#dcdbed"/><text x="314" y="466.9">35</text></g>
<g id="n-g97" class="n"><circle cx="314" cy="489" r="10.5" fill="#fcfbfd"/><text x="314" y="490.9">97</text></g>
<g id="n-g37" class="n"><circle cx="332" cy="465" r="10.5" fill="#fcfbfd"/><text x="332" y="466.9">37</text></g>
<g id="n-g98" class="n"><circle cx="332" cy="489" r="10.5" fill="#fcfbfd"/><text x="332" y="490.9">98</text></g>
<g id="n-g143" class="n"><circle cx="305" cy="515" r="10.5" fill="#fcfbfd"/><text x="305" y="516.9">143</text></g>
<g id="n-g146" class="n"><circle cx="323" cy="515" r="10.5" fill="#fcfbfd"/><text x="323" y="516.9">146</text></g>
<g id="n-g148" class="n"><circle cx="341" cy="515" r="10.5" fill="#cbc9e2"/><text x="341" y="516.9">148</text></g>
<g id="n-g38" class="n"><circle cx="350" cy="464" r="10.5" fill="#fcfbfd"/><text x="350" y="465.9">38</text></g>
<g id="n-g100" class="n"><circle cx="350" cy="488" r="10.5" fill="#fcfbfd"/><text x="350" y="489.9">100</text></g>
<g id="n-g42" class="n"><circle cx="368" cy="462" r="10.5" fill="#fcfbfd"/><text x="368" y="463.9">42</text></g>
<g id="n-g102" class="n"><circle cx="368" cy="487" r="10.5" fill="#aeabd3"/><text x="368" y="488.9">102</text></g>
<g id="n-g47" class="n"><circle cx="386" cy="459" r="10.5" fill="#e4e3f0"/><text x="386" y="460.9">47</text></g>
<g id="n-g111" class="n"><circle cx="386" cy="484" r="10.5" fill="#fcfbfd"/><text x="386" y="485.9">111</text></g>
<g id="n-g48" class="n"><circle cx="404" cy="456" r="10.5" fill="#fcfbfd"/><text x="404" y="457.9">48</text></g>
<g id="n-g112" class="n"><circle cx="404" cy="481" r="10.5" fill="#aaa7d1"/><text x="404" y="482.9">112</text></g>
<g id="n-g55" class="n"><circle cx="422" cy="451" r="10.5" fill="#fcfbfd"/><text x="422" y="452.9">55</text></g>
<g id="n-g115" class="n"><circle cx="422" cy="476" r="10.5" fill="#fcfbfd"/><text x="422" y="477.9">115</text></g>
<g id="n-g57" class="n"><circle cx="439" cy="446" r="10.5" fill="#fcfbfd"/><text x="439" y="447.9">57</text></g>
<g id="n-g122" class="n"><circle cx="439" cy="471" r="10.5" fill="#fcfbfd"/><text x="439" y="472.9">122</text></g>
<g id="n-g59" class="n"><circle cx="457" cy="439" r="10.5" fill="#fcfbfd"/><text x="457" y="440.9">59</text></g>
<g id="n-g128" class="n"><circle cx="457" cy="464" r="10.5" fill="#fcfbfd"/><text x="457" y="465.9">128</text></g>
<g id="n-g60" class="n"><circle cx="475" cy="432" r="10.5" fill="#fcfbfd"/><text x="475" y="433.9">60</text></g>
<g id="n-g129" class="n"><circle cx="475" cy="457" r="10.5" fill="#fcfbfd"/><text x="475" y="458.9">129</text></g>
<g id="n-g61" class="n"><circle cx="493" cy="423" r="10.5" fill="#fcfbfd"/><text x="493" y="424.9">61</text></g>
<g id="n-g135" class="n"><circle cx="493" cy="449" r="10.5" fill="#ebeaf4"/><text x="493" y="450.9">135</text></g>
<g id="n-g63" class="n w"><circle cx="511" cy="414" r="10.5" fill="#4a1a89"/><text x="511" y="415.9">63</text></g>
<g id="n-g139" class="n"><circle cx="511" cy="439" r="10.5" fill="#fcfbfd"/><text x="511" y="440.9">139</text></g>
<g id="n-g64" class="n"><circle cx="529" cy="404" r="10.5" fill="#fcfbfd"/><text x="529" y="405.9">64</text></g>
<g id="n-g140" class="n"><circle cx="529" cy="429" r="10.5" fill="#fcfbfd"/><text x="529" y="430.9">140</text></g>
<g id="n-g67" class="n"><circle cx="547" cy="393" r="10.5" fill="#fcfbfd"/><text x="547" y="394.9">67</text></g>
<g id="n-g141" class="n"><circle cx="547" cy="419" r="10.5" fill="#fcfbfd"/><text x="547" y="420.9">141</text></g>
</g>
</svg>
